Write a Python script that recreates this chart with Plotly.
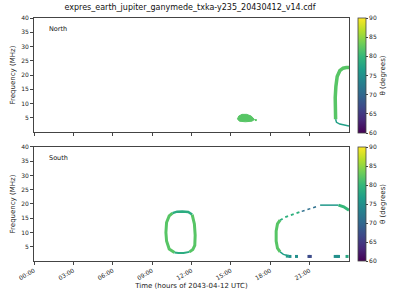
import plotly.graph_objects as go
from plotly.subplots import make_subplots
from plotly.colors import sample_colorscale

TITLE = "expres_earth_jupiter_ganymede_txka-y235_20430412_v14.cdf"
tick_hours = [0, 3, 6, 9, 12, 15, 18, 21]
tick_labels = ["00:00", "03:00", "06:00", "09:00", "12:00", "15:00", "18:00", "21:00"]
freq_ticks = [5, 10, 15, 20, 25, 30, 35, 40]
theta_ticks = [60, 65, 70, 75, 80, 85, 90]

# ---- North hemisphere (top panel) ----
north_blob_t = [15.5, 15.6, 15.85, 16.2, 16.55, 16.8, 16.6, 16.1, 15.65, 15.5]
north_blob_f = [4.6, 5.6, 6.2, 6.2, 5.6, 4.4, 3.8, 3.6, 3.8, 4.6]
north_blob_theta = 82
north_arc_t = [22.98, 22.95, 22.95, 23.0, 23.1, 23.3, 23.55, 23.8, 24.0]
north_arc_f = [4.5, 8, 12, 16, 19.5, 21.5, 22.4, 22.6, 22.6]
north_arc_theta = 82
north_hook_t = [22.98, 23.05, 23.3, 23.6, 24.0]
north_hook_f = [4.5, 3.4, 2.8, 2.4, 2.1]
north_hook_theta = 77
north_dot_t = [16.9]
north_dot_f = [4.2]
north_dot_theta = [82]

# ---- South hemisphere (bottom panel) ----
south_loop_left_t = [10.7, 10.3, 10.1, 10.05, 10.1, 10.3, 10.55]
south_loop_left_f = [3.0, 4.2, 7.0, 10.0, 13.5, 15.8, 16.8]
south_loop_left_theta = 82
south_loop_top_t = [10.55, 10.9, 11.3, 11.75, 12.05]
south_loop_top_f = [16.8, 17.3, 17.4, 17.2, 16.3]
south_loop_top_theta = 78.5
south_loop_right_t = [12.05, 12.22, 12.28, 12.25, 12.1, 11.85]
south_loop_right_f = [16.3, 13.0, 9.0, 5.5, 4.0, 3.2]
south_loop_right_theta = 82
south_loop_bot_t = [11.85, 11.4, 11.0, 10.7]
south_loop_bot_f = [3.2, 2.8, 2.85, 3.0]
south_loop_bot_theta = 78.5

south_arc1_t = [18.75, 18.55, 18.45, 18.45, 18.55, 18.75]
south_arc1_f = [3.2, 4.5, 7.0, 10.5, 13.0, 14.3]
south_arc1_theta = 82
south_arc2_t = [18.75, 19.1, 19.5, 20.0, 20.4]
south_arc2_f = [14.3, 15.3, 16.0, 16.8, 17.4]
south_arc2_theta = 79
south_arc3_t = [20.4, 21.0, 21.6]
south_arc3_f = [17.4, 18.4, 19.2]
south_arc3_theta = 71
south_arc4_t = [21.8, 22.5, 23.2]
south_arc4_f = [19.6, 19.7, 19.6]
south_arc4_theta = 76
south_arc5_t = [23.2, 23.6, 24.0]
south_arc5_f = [19.6, 19.0, 17.8]
south_arc5_theta = 80
south_hook_t = [18.75, 19.0, 19.3]
south_hook_f = [3.2, 2.3, 1.9]
south_hook_theta = 77
south_dash_t = [19.3, 19.5, 20.0, 20.95, 21.05, 22.95, 23.1, 23.2, 23.85]
south_dash_f = [1.7, 1.6, 1.6, 1.6, 1.6, 1.6, 1.6, 1.6, 1.6]
south_dash_theta = [77, 75, 75, 67, 67, 75, 75, 75, 78]

TMIN, TMAX = 60, 90


def col(theta):
    return sample_colorscale("Viridis", [(theta - TMIN) / (TMAX - TMIN)])[0]


fig = make_subplots(rows=2, cols=1, shared_xaxes=False, vertical_spacing=15 / 244)


def line(t, f, theta, w, row, dash="solid"):
    fig.add_trace(go.Scatter(x=t, y=f, mode="lines", line=dict(color=col(theta), width=w, dash=dash),
                             hoverinfo="skip", showlegend=False), row=row, col=1)


# north
fig.add_trace(go.Scatter(x=north_blob_t, y=north_blob_f, mode="lines", fill="toself",
                         fillcolor=col(north_blob_theta), line=dict(color=col(north_blob_theta), width=1),
                         showlegend=False), row=1, col=1)
line(north_arc_t, north_arc_f, north_arc_theta, 3.5, 1)
line(north_hook_t, north_hook_f, north_hook_theta, 1.5, 1)
fig.add_trace(go.Scatter(x=north_dot_t, y=north_dot_f, mode="markers",
                         marker=dict(symbol="square", size=2, color=north_dot_theta, coloraxis="coloraxis"),
                         showlegend=False), row=1, col=1)

# south
line(south_loop_left_t, south_loop_left_f, south_loop_left_theta, 3, 2)
line(south_loop_top_t, south_loop_top_f, south_loop_top_theta, 2.5, 2)
line(south_loop_right_t, south_loop_right_f, south_loop_right_theta, 3, 2)
line(south_loop_bot_t, south_loop_bot_f, south_loop_bot_theta, 2, 2)
line(south_arc1_t, south_arc1_f, south_arc1_theta, 3, 2)
line(south_arc2_t, south_arc2_f, south_arc2_theta, 1.8, 2, dash="dot")
line(south_arc3_t, south_arc3_f, south_arc3_theta, 1.5, 2, dash="dot")
line(south_arc4_t, south_arc4_f, south_arc4_theta, 1.5, 2)
line(south_arc5_t, south_arc5_f, south_arc5_theta, 3, 2)
line(south_hook_t, south_hook_f, south_hook_theta, 1.5, 2)
fig.add_trace(go.Scatter(x=south_dash_t, y=south_dash_f, mode="markers",
                         marker=dict(symbol="square", size=3, color=south_dash_theta, coloraxis="coloraxis2"),
                         showlegend=False), row=2, col=1)

axis_common = dict(showgrid=False, zeroline=False, showline=True, linecolor="#444", linewidth=1,
                   mirror=True, ticks="outside", ticklen=3, tickcolor="#444",
                   tickfont=dict(family="DejaVu Sans", size=6, color="#222"))

for r in (1, 2):
    fig.update_xaxes(range=[0, 24], tickvals=tick_hours, ticktext=tick_labels, tickangle=-30,
                     showticklabels=(r == 2), row=r, col=1, **axis_common)
    fig.update_yaxes(range=[0, 40], tickvals=freq_ticks, row=r, col=1,
                     title=dict(text="Frequency (MHz)", font=dict(family="DejaVu Sans", size=7, color="#222"),
                                standoff=4), **axis_common)
fig.update_xaxes(title=dict(text="Time (hours of 2043-04-12 UTC)",
                            font=dict(family="DejaVu Sans", size=7, color="#222"), standoff=2), row=2, col=1)

cb_common = dict(thickness=8, outlinewidth=0.8, outlinecolor="#444", ticks="outside", ticklen=2,
                 tickvals=theta_ticks, tickfont=dict(family="DejaVu Sans", size=6, color="#222"),
                 x=1.03, xanchor="left", xpad=0, ypad=0, lenmode="fraction",
                 title=dict(text="θ (degrees)", side="right", font=dict(family="DejaVu Sans", size=7, color="#222")))

fig.update_layout(
    width=400, height=300, margin=dict(l=31, r=50, t=18, b=38),
    plot_bgcolor="white", paper_bgcolor="white",
    title=dict(text=TITLE, x=0.475, xanchor="center", y=0.985, yanchor="top",
               font=dict(family="DejaVu Sans", size=8, color="#111")),
    coloraxis=dict(colorscale="Viridis", cmin=TMIN, cmax=TMAX,
                   colorbar=dict(y=1, yanchor="top", len=115 / 244, **cb_common)),
    coloraxis2=dict(colorscale="Viridis", cmin=TMIN, cmax=TMAX,
                    colorbar=dict(y=0, yanchor="bottom", len=114 / 244, **cb_common)),
    annotations=[
        dict(text="North", xref="x domain", yref="y domain", x=0.04, y=0.9, showarrow=False,
             xanchor="left", yanchor="middle", font=dict(family="DejaVu Sans", size=6.5, color="#111")),
        dict(text="South", xref="x2 domain", yref="y2 domain", x=0.04, y=0.9, showarrow=False,
             xanchor="left", yanchor="middle", font=dict(family="DejaVu Sans", size=6.5, color="#111")),
    ],
)

fig.write_html("out.html")
